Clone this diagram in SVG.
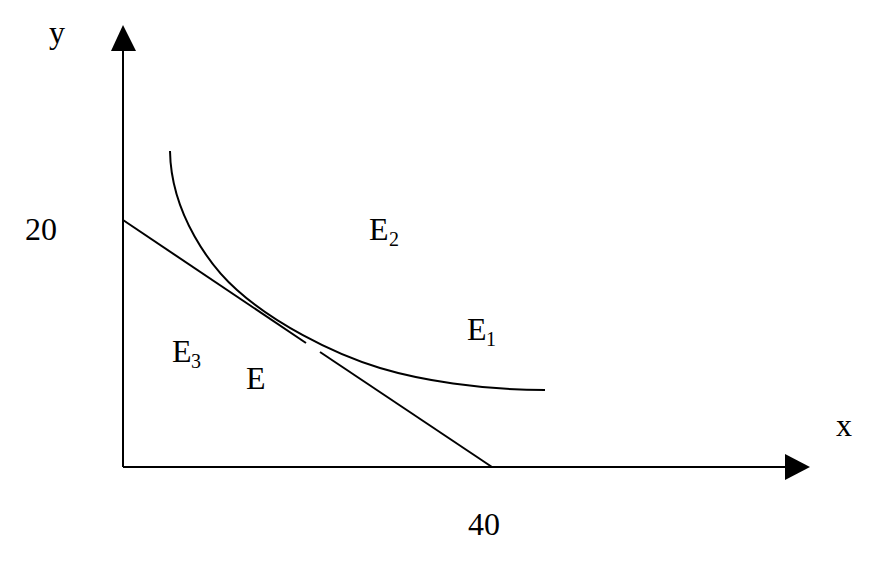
<svg xmlns="http://www.w3.org/2000/svg" width="885" height="565" viewBox="0 0 885 565">
<style>
.ln{fill:none;stroke:#000;stroke-width:2}
.ah{fill:#000;stroke:none}
text{font-family:"Liberation Serif","Times New Roman",serif;font-size:32px;fill:#000}
.sub{font-size:20px}
</style>
<rect width="885" height="565" fill="#fff"/>
<g id="axes">
<line class="ln" x1="123" y1="467" x2="123" y2="50"/>
<polygon class="ah" points="123,25 111,51 136,51"/>
<line class="ln" x1="123" y1="467" x2="786" y2="467"/>
<polygon class="ah" points="810,467 785,454 785,480"/>
</g>
<g id="connectors">
<line id="budget1" class="ln" x1="123" y1="220" x2="306" y2="343"/>
<line id="budget2" class="ln" x1="320" y1="352" x2="492" y2="467"/>
<path id="indiff" class="ln" d="M170,151 C171,215 212,268 237,290 C272,321.5 330,353 380,368 C420,380 480,390 545,390"/>
</g>
<g id="labels">
<text x="49" y="43">y</text>
<text x="25" y="240">20</text>
<text x="836" y="436">x</text>
<text x="468" y="535">40</text>
<g id="E2"><text x="369" y="240">E</text><text class="sub" x="389" y="246">2</text></g>
<g id="E1"><text x="467" y="340">E</text><text class="sub" x="486" y="346">1</text></g>
<g id="E3"><text x="172" y="362">E</text><text class="sub" x="191" y="368">3</text></g>
<g id="E"><text x="246" y="389">E</text></g>
</g>
</svg>
